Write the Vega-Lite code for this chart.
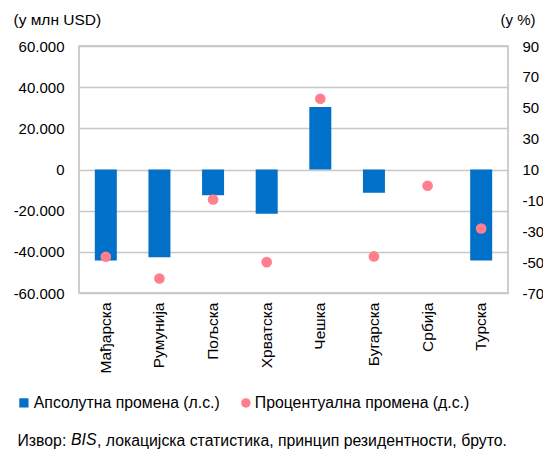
{
 "$schema": "https://vega.github.io/schema/vega-lite/v6.json",
 "width": 429, "height": 247,
 "autosize": {"type": "none"},
 "padding": {"left": 79, "top": 46, "right": 35, "bottom": 158},
 "background": "white",
 "config": {
   "font": "Liberation Sans",
   "locale": {"number": {"decimal": ",", "thousands": ".", "grouping": [3], "currency": ["", ""], "minus": "-"}},
   "view": {"stroke": "#BFBFBF", "strokeWidth": 1.5},
   "axis": {"labelFont": "Liberation Sans", "labelFontSize": 15, "labelColor": "#000", "titleFont": "Liberation Sans", "titleFontSize": 15, "titleFontWeight": "normal", "titleColor": "#000", "ticks": false, "domain": false}
 },
 "title": {"text": "BIS", "fontStyle": "italic", "fontWeight": "normal", "fontSize": 15.8, "font": "Liberation Sans", "color": "#000", "orient": "bottom", "anchor": "start", "frame": "group", "dx": -8, "dy": -19},
 "data": {"values": [
   {"country": "Мађарска", "series": "Апсолутна промена (л.с.)", "value": -44200},
   {"country": "Румунија", "series": "Апсолутна промена (л.с.)", "value": -42600},
   {"country": "Пољска", "series": "Апсолутна промена (л.с.)", "value": -12500},
   {"country": "Хрватска", "series": "Апсолутна промена (л.с.)", "value": -21500},
   {"country": "Чешка", "series": "Апсолутна промена (л.с.)", "value": 30400},
   {"country": "Бугарска", "series": "Апсолутна промена (л.с.)", "value": -11300},
   {"country": "Србија", "series": "Апсолутна промена (л.с.)", "value": 0},
   {"country": "Турска", "series": "Апсолутна промена (л.с.)", "value": -44200},
   {"country": "Мађарска", "series": "Процентуална промена (д.с.)", "value": -46.5},
   {"country": "Румунија", "series": "Процентуална промена (д.с.)", "value": -60.6},
   {"country": "Пољска", "series": "Процентуална промена (д.с.)", "value": -9.4},
   {"country": "Хрватска", "series": "Процентуална промена (д.с.)", "value": -50},
   {"country": "Чешка", "series": "Процентуална промена (д.с.)", "value": 55.8},
   {"country": "Бугарска", "series": "Процентуална промена (д.с.)", "value": -46.3},
   {"country": "Србија", "series": "Процентуална промена (д.с.)", "value": -0.5},
   {"country": "Турска", "series": "Процентуална промена (д.с.)", "value": -28.2}
 ]},
 "encoding": {
   "x": {"field": "country", "type": "nominal", "sort": null,
     "scale": {"paddingInner": 0, "paddingOuter": 0},
     "axis": {"labelAngle": -90, "labelPadding": 9, "labelFontSize": 15.5, "title": "Извор:\u00a0\u00a0\u00a0\u00a0\u00a0\u00a0\u00a0, локацијска статистика, принцип резидентности, бруто.", "titleFontSize": 15.8, "titleX": -62, "titleY": 152, "titleAlign": "left", "titleBaseline": "alphabetic"}}
 },
 "layer": [
  {"transform": [{"filter": "datum.series == 'Апсолутна промена (л.с.)'"}],
   "mark": {"type": "bar", "size": 22},
   "encoding": {
     "y": {"field": "value", "type": "quantitative", "scale": {"domain": [-60000, 60000], "nice": false},
       "axis": {"values": [-60000, -40000, -20000, 0, 20000, 40000, 60000], "grid": true, "gridColor": "#C8C8C8", "gridWidth": 1.5, "labelPadding": 15, "title": "(у млн USD)", "titleFontSize": 15.5, "titleAngle": 0, "titleX": -66, "titleY": -22, "titleAlign": "left", "titleBaseline": "alphabetic"}},
     "color": {"field": "series", "type": "nominal", "scale": {"range": ["#0070C8"]},
       "legend": {"orient": "none", "legendX": -63, "legendY": 349, "title": null, "symbolType": "square", "symbolSize": 85, "labelFontSize": 15.8, "labelColor": "#000", "labelFont": "Liberation Sans", "symbolStrokeWidth": 0, "labelOffset": 2, "labelLimit": 0}}
   }},
  {"transform": [{"filter": "datum.series == 'Процентуална промена (д.с.)'"}],
   "mark": {"type": "point", "filled": true, "size": 113, "opacity": 1, "shape": "circle"},
   "encoding": {
     "y": {"field": "value", "type": "quantitative", "scale": {"domain": [-70, 90], "nice": false, "zero": false},
       "axis": {"orient": "right", "values": [-70, -50, -30, -10, 10, 30, 50, 70, 90], "grid": false, "labelPadding": 14, "title": "(у %)", "titleAngle": 0, "titleX": -8, "titleY": -22, "titleAlign": "left", "titleBaseline": "alphabetic"}},
     "fill": {"field": "series", "type": "nominal", "scale": {"range": ["#FF7F8C"]},
       "legend": {"orient": "none", "legendX": 159, "legendY": 349, "title": null, "symbolType": "circle", "symbolSize": 90, "labelFontSize": 15.8, "labelColor": "#000", "labelFont": "Liberation Sans", "symbolStrokeWidth": 0, "labelOffset": 1, "labelLimit": 0}}
   }}
 ],
 "resolve": {"scale": {"y": "independent", "color": "independent", "fill": "independent"}}
}
